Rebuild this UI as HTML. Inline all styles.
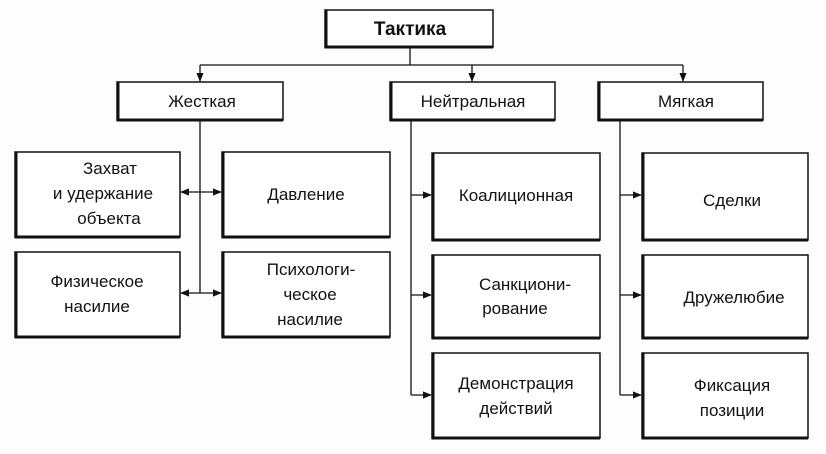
<!DOCTYPE html>
<html><head><meta charset="utf-8"><style>
html,body{margin:0;padding:0;background:#fff;}
svg{display:block;}
text{font-family:"Liberation Sans",sans-serif;font-size:17px;fill:#111;text-anchor:middle;}
</style></head><body>
<svg width="826" height="454" viewBox="0 0 826 454" xmlns="http://www.w3.org/2000/svg">
<defs>
<marker id="a" viewBox="0 0 10 10" refX="9" refY="5" markerWidth="7" markerHeight="7" orient="auto"><path d="M0,1 L10,5 L0,9 z" fill="#111"/></marker>
</defs>
<rect width="826" height="454" fill="#fdfdfd"/>
<g stroke="#111" fill="none" stroke-width="1.3">
<!-- top connectors -->
<line x1="410" y1="47" x2="410" y2="65"/>
<line x1="200" y1="65" x2="683" y2="65"/>
<line x1="200" y1="65" x2="200" y2="81" marker-end="url(#a)"/>
<line x1="472" y1="65" x2="472" y2="81" marker-end="url(#a)"/>
<line x1="683" y1="65" x2="683" y2="81" marker-end="url(#a)"/>
<!-- hard -->
<line x1="200" y1="120" x2="200" y2="293"/>
<line x1="200" y1="192" x2="181" y2="192" marker-end="url(#a)"/>
<line x1="200" y1="192" x2="221" y2="192" marker-end="url(#a)"/>
<line x1="200" y1="293" x2="181" y2="293" marker-end="url(#a)"/>
<line x1="200" y1="293" x2="221" y2="293" marker-end="url(#a)"/>
<!-- neutral -->
<line x1="411" y1="120" x2="411" y2="395"/>
<line x1="411" y1="195" x2="431" y2="195" marker-end="url(#a)"/>
<line x1="411" y1="295" x2="431" y2="295" marker-end="url(#a)"/>
<line x1="411" y1="395" x2="431" y2="395" marker-end="url(#a)"/>
<!-- soft -->
<line x1="620" y1="120" x2="620" y2="395"/>
<line x1="620" y1="195" x2="641" y2="195" marker-end="url(#a)"/>
<line x1="620" y1="295" x2="641" y2="295" marker-end="url(#a)"/>
<line x1="620" y1="395" x2="641" y2="395" marker-end="url(#a)"/>
</g>
<g stroke="#111" fill="#fff" stroke-width="1.5">
<rect x="325" y="10" width="168" height="37"/>
<rect x="117" y="82" width="166" height="38"/>
<rect x="390" y="82" width="165" height="38"/>
<rect x="598" y="82" width="165" height="38"/>
<rect x="15" y="152" width="165" height="85"/>
<rect x="222" y="152" width="168" height="85"/>
<rect x="15" y="252" width="165" height="85"/>
<rect x="222" y="252" width="168" height="85"/>
<rect x="432" y="153" width="168" height="87"/>
<rect x="432" y="255" width="168" height="83"/>
<rect x="432" y="353" width="168" height="85"/>
<rect x="642" y="153" width="166" height="87"/>
<rect x="642" y="255" width="166" height="83"/>
<rect x="642" y="353" width="166" height="85"/>
</g>
<g stroke="#111" stroke-width="3" fill="none">
<path d="M326,10 V47 H493"/>
<path d="M118,82 V120 H283"/>
<path d="M391,82 V120 H555"/>
<path d="M599,82 V120 H763"/>
<path d="M16,152 V237 H180"/>
<path d="M223,152 V237 H390"/>
<path d="M16,252 V337 H180"/>
<path d="M223,252 V337 H390"/>
<path d="M433,153 V240 H600"/>
<path d="M433,255 V338 H600"/>
<path d="M433,353 V438 H600"/>
<path d="M643,153 V240 H808"/>
<path d="M643,255 V338 H808"/>
<path d="M643,353 V438 H808"/>
</g>
<text x="410" y="35" style="font-weight:bold;font-size:19px">Тактика</text>
<text x="202" y="107">Жесткая</text>
<text x="473" y="107">Нейтральная</text>
<text x="686" y="107">Мягкая</text>
<text x="110" y="174">Захват</text>
<text x="103" y="199">и удержание</text>
<text x="109" y="224">объекта</text>
<text x="306" y="200">Давление</text>
<text x="97" y="287">Физическое</text>
<text x="97" y="312">насилие</text>
<text x="311" y="275">Психологи-</text>
<text x="310" y="300">ческое</text>
<text x="310" y="325">насилие</text>
<text x="516" y="201">Коалиционная</text>
<text x="525" y="290">Санкциони-</text>
<text x="515" y="314">рование</text>
<text x="516" y="389">Демонстрация</text>
<text x="516" y="414">действий</text>
<text x="732" y="206">Сделки</text>
<text x="734" y="303">Дружелюбие</text>
<text x="732" y="391">Фиксация</text>
<text x="732" y="416">позиции</text>
</svg>
</body></html>
